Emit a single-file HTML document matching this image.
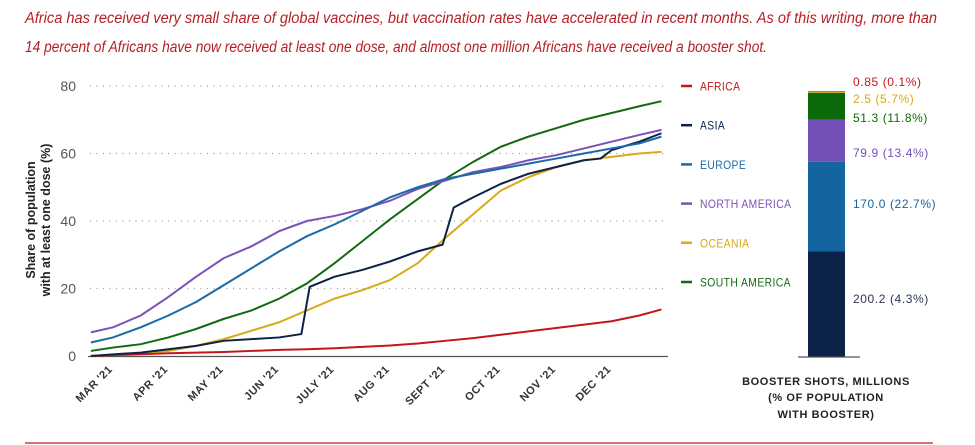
<!DOCTYPE html>
<html><head><meta charset="utf-8"><style>
body{margin:0;background:#fff;}
svg{display:block;font-family:"Liberation Sans",sans-serif;}
</style></head><body>
<svg width="975" height="445" viewBox="0 0 975 445">
<text x="25" y="23" fill="#b52025" font-size="15.5" font-style="italic" textLength="912" lengthAdjust="spacingAndGlyphs">Africa has received very small share of global vaccines, but vaccination rates have accelerated in recent months. As of this writing, more than</text>
<text x="25" y="52" fill="#b52025" font-size="15.5" font-style="italic" textLength="742" lengthAdjust="spacingAndGlyphs">14 percent of Africans have now received at least one dose, and almost one million Africans have received a booster shot.</text>
<g id="grid"></g><g id="lines"></g><g id="xlabels"></g><g id="legend"></g><g id="bar"></g>
<text transform="translate(42,220) rotate(-90)" text-anchor="middle" font-size="12.5" font-weight="bold" fill="#222"><tspan x="0" dy="-7">Share of population</tspan><tspan x="0" dy="15">with at least one dose (%)</tspan></text>
<g font-size="11" font-weight="bold" fill="#222" text-anchor="middle" letter-spacing="0.6">
<text x="826" y="385">BOOSTER SHOTS, MILLIONS</text><text x="826" y="401">(% OF POPULATION</text><text x="826" y="418">WITH BOOSTER)</text></g>
<line x1="25" y1="443" x2="933" y2="443" stroke="#b52025" stroke-width="1.2"/>
</svg>
<script>
const NS="http://www.w3.org/2000/svg";
const yTicks=[0,20,40,60,80];
const months=["MAR '21","APR '21","MAY '21","JUN '21","JULY '21","AUG '21","SEPT '21","OCT '21","NOV '21","DEC '21"];
const tGrid=[-0.4,0,0.5,1,1.5,2,2.5,3,3.5,4,4.5,5,5.5,6,6.5,7,7.5,8,8.5,9,9.5,9.9];
const africa=[0,0.3,0.5,0.8,1,1.2,1.5,1.8,2,2.3,2.7,3.1,3.7,4.5,5.3,6.3,7.3,8.3,9.3,10.3,12,13.8];
const northAmerica=[7,8.5,12,17.5,23.5,29,32.5,37,40,41.5,43.5,46,49.5,52,54.5,56,58,59.5,61.5,63.5,65.5,67];
const europe=[4,5.5,8.5,12,16,21,26,31,35.5,39,43,47,50,52.5,54,55.5,57,58.5,60,61.5,63,65];
const southAmerica=[1.5,2.5,3.5,5.5,8,11,13.5,17,21.5,27.5,34,40.5,46.5,52.5,57.5,62,65,67.5,70,72,74,75.5];
const oceania=[0,0.3,0.8,1.5,3,5,7.5,10,13.5,17,19.5,22.5,27.5,35,42,49,53,56,58,59,60,60.5];
const asiaT=[-0.4,0,0.5,1,1.5,2,2.5,3,3.4,3.55,4,4.5,5,5.5,5.95,6.15,6.5,7,7.5,8,8.5,8.8,9.0,9.5,9.9];
const asia=[0,0.5,1,2,3,4.5,5,5.5,6.5,20.5,23.5,25.5,28,31,33,44,47,51,54,56,58,58.5,61,63.5,66];
const legendNames=["AFRICA","ASIA","EUROPE","NORTH AMERICA","OCEANIA","SOUTH AMERICA"];
const boosterNames=["Asia","Europe","North America","South America","Oceania","Africa"];
const boosterVals=[200.2,170.0,79.9,51.3,2.5,0.85];
const boosterLabels=["200.2 (4.3%)","170.0 (22.7%)","79.9 (13.4%)","51.3 (11.8%)","2.5 (5.7%)","0.85 (0.1%)"];
const C={AFRICA:"#c4161c",ASIA:"#0d2248",EUROPE:"#1a6aa8","NORTH AMERICA":"#7b52b8",OCEANIA:"#d9a916","SOUTH AMERICA":"#126b12"};
const bColors=["#0d2248","#1464a0","#7350b5","#0a6a0a","#d9a916","#c4161c"];
const xS=t=>113+t*55.4, yS=v=>356-v*3.375;
function mk(tag,attrs,parent){const e=document.createElementNS(NS,tag);for(const k in attrs)e.setAttribute(k,attrs[k]);parent.appendChild(e);return e;}
const grid=document.getElementById('grid');
yTicks.forEach(v=>{
 if(v>0){const l=mk('line',{x1:90,x2:668,y1:yS(v),y2:yS(v),stroke:'#999','stroke-width':1.3,'stroke-dasharray':'1 5.5'},grid);
 
 }
 const t=mk('text',{x:76,y:yS(v)+5,'text-anchor':'end','font-size':14,fill:'#555'},grid);t.textContent=v;
 
 
});
const ax=mk('line',{x1:88,x2:668,y1:356.5,y2:356.5,stroke:'#555','stroke-width':1.2},grid);


const xl=document.getElementById('xlabels');
months.forEach((m,i)=>{const t=mk('text',{transform:`translate(${xS(i)},370) rotate(-45)`,'text-anchor':'end','font-size':11,'font-weight':'bold',fill:'#333','letter-spacing':0.5},xl);t.textContent=m;
 
 });
const lines=document.getElementById('lines');
function draw(name,ts,vs){const p=mk('polyline',{points:ts.map((t,i)=>xS(t)+','+yS(vs[i])).join(' '),fill:'none',stroke:C[name],'stroke-width':2,'stroke-linejoin':'round'},lines);
 
 }
draw("OCEANIA",tGrid,oceania);draw("AFRICA",tGrid,africa);draw("ASIA",asiaT,asia);
draw("SOUTH AMERICA",tGrid,southAmerica);draw("NORTH AMERICA",tGrid,northAmerica);draw("EUROPE",tGrid,europe);
const lg=document.getElementById('legend');
legendNames.forEach((n,i)=>{const y=86+i*39.2;
 const d=mk('line',{x1:681,x2:692,y1:y,y2:y,stroke:C[n],'stroke-width':2.5},lg);
 
 
 const t=mk('text',{x:700,y:y+4.5,'font-size':12,fill:C[n],'letter-spacing':0.5},lg);t.textContent=n;
 
 
 const w=t.getComputedTextLength();
 t.setAttribute('textLength',(w*0.86).toFixed(1));
 t.setAttribute('lengthAdjust','spacingAndGlyphs');});
const bar=document.getElementById('bar');
const bS=0.527;let base=357;const labY=[303,208,157,122,103,86];
boosterVals.forEach((v,i)=>{const h=v*bS;
 const r=mk('rect',{x:808,y:base-h,width:37,height:h,fill:bColors[i]},bar);
 
 
 base-=h;
 const t=mk('text',{x:853,y:labY[i],'font-size':12,fill:bColors[i]==='#0d2248'?'#2a3550':bColors[i],'letter-spacing':0.6},bar);t.textContent=boosterLabels[i];
 
 });
const bb=mk('line',{x1:798,x2:860,y1:357,y2:357,stroke:'#555','stroke-width':1.2},bar);


</script>
</body></html>
